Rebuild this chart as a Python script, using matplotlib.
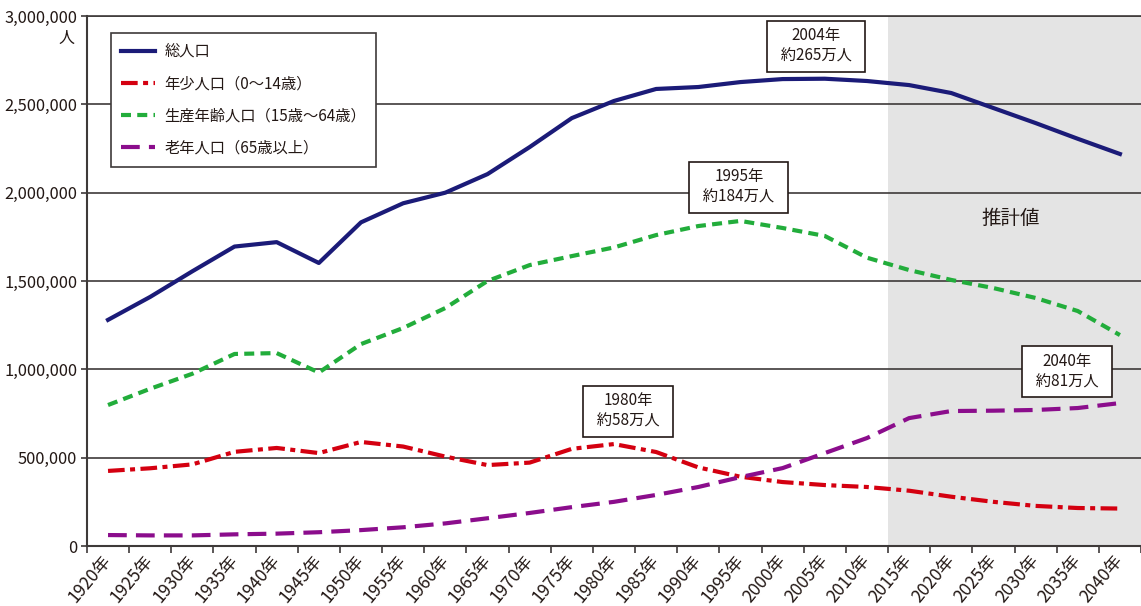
import matplotlib
matplotlib.use('Agg')
import matplotlib.pyplot as plt
from matplotlib.ticker import FuncFormatter, FixedLocator

plt.rcParams['font.family'] = ['Noto Sans CJK JP', 'DejaVu Sans']

years = [1920, 1925, 1930, 1935, 1940, 1945, 1950, 1955, 1960, 1965, 1970, 1975, 1980,
         1985, 1990, 1995, 2000, 2005, 2010, 2015, 2020, 2025, 2030, 2035, 2040]
year_labels = [f'{y}年' for y in years]

total = [1280000, 1410000, 1555000, 1695000, 1720000, 1602000, 1832000, 1940000, 2000000,
         2105000, 2258000, 2422000, 2519000, 2587000, 2598000, 2626000, 2643000, 2645000,
         2632000, 2609000, 2564000, 2479000, 2394000, 2305000, 2219000]
young = [425000, 440000, 462000, 533000, 555000, 526000, 589000, 563000, 506000,
         458000, 472000, 550000, 577000, 532000, 445000, 392000, 362000, 345000,
         334000, 313000, 279000, 250000, 227000, 215000, 212000]
working = [798000, 890000, 975000, 1087000, 1092000, 982000, 1143000, 1234000, 1347000,
           1500000, 1590000, 1641000, 1690000, 1760000, 1811000, 1840000, 1800000, 1755000,
           1632000, 1562000, 1506000, 1460000, 1404000, 1330000, 1194000]
elderly = [62000, 60000, 60000, 66000, 70000, 78000, 90000, 106000, 128000,
           157000, 187000, 220000, 250000, 289000, 334000, 390000, 441000, 526000,
           611000, 724000, 764000, 766000, 770000, 781000, 809000]

x = list(range(len(years)))

fig = plt.figure(figsize=(11.41, 6.06), dpi=100)
ax = fig.add_axes([0.0762, 0.099, 0.9238, 0.8746])

# projection period shading (2015 onwards)
ax.axvspan(18.5, 24.5, color='#e4e4e4', zorder=0.2, lw=0)
ax.text(21.4, 1856000, '推計値', fontsize=14, ha='center', va='center', color='#231815')

ax.plot(x, total, color='#1b1b78', lw=3, label='総人口', zorder=3)
ax.plot(x, young, color='#d40010', lw=3, dashes=(4, 1.3, 1.2, 1.3),
        label='年少人口（0～14歳）', zorder=3)
ax.plot(x, working, color='#22ad3b', lw=3, dashes=(2.4, 1.5),
        label='生産年齢人口（15歳～64歳）', zorder=3)
ax.plot(x, elderly, color='#8b0d8c', lw=3, dashes=(4.5, 2.2),
        label='老年人口（65歳以上）', zorder=3)

ax.set_xlim(-0.5, 24.5)
ax.set_ylim(0, 3000000)

ax.set_axisbelow(True)
ax.yaxis.grid(True, color='#3e3a39', lw=1.2)
ax.set_yticks(range(0, 3000001, 500000))
ax.yaxis.set_major_formatter(FuncFormatter(lambda v, p: f'{int(v):,}'))
ax.tick_params(axis='y', length=4, width=1.2, pad=3, labelsize=11.8, color='#3e3a39',
               labelcolor='#231815')

ax.set_xticks(x)
ax.set_xticklabels(year_labels, rotation=50, ha='right', va='center',
                   rotation_mode='anchor', fontsize=12.5, color='#231815')
ax.tick_params(axis='x', which='major', length=0, pad=8)
ax.xaxis.set_minor_locator(FixedLocator([i - 0.5 for i in range(len(years) + 1)]))
ax.tick_params(axis='x', which='minor', length=5, width=1.2, color='#3e3a39')

for side in ['left', 'bottom', 'top']:
    ax.spines[side].set_color('#3e3a39')
    ax.spines[side].set_linewidth(1.5)
ax.spines['top'].set_linewidth(1.2)
ax.spines['right'].set_visible(False)

ax.annotate('人', xy=(0, 3000000), xycoords=('axes fraction', 'data'),
            xytext=(-9, -16), textcoords='offset points', ha='right', va='center',
            fontsize=11.5, color='#231815')

# callout boxes
box = dict(boxstyle='square,pad=0.45', fc='white', ec='#231815', lw=1.2)
notes = [
    (16.79, 2830000, '2004年\n  約265万人  '),
    (14.96, 2032000, '1995年\n  約184万人  '),
    (12.33, 764000, '1980年\n  約58万人  '),
    (22.74, 985000, '2040年\n  約81万人  '),
]
for nx, ny, txt in notes:
    ax.text(nx, ny, txt, ha='center', va='center', multialignment='center',
            fontsize=11, linespacing=1.25, color='#231815', bbox=box, zorder=4)

leg = ax.legend(loc='upper left', bbox_to_anchor=(0.0228, 0.968), borderaxespad=0,
                fontsize=11, frameon=True, fancybox=False, edgecolor='#3e3a39',
                framealpha=1, handlelength=2.2, handletextpad=0.65, labelspacing=1.0,
                borderpad=0.65)
leg.get_frame().set_linewidth(1.2)
for t in leg.get_texts():
    t.set_color('#231815')

fig.savefig('out.png', dpi=100)
